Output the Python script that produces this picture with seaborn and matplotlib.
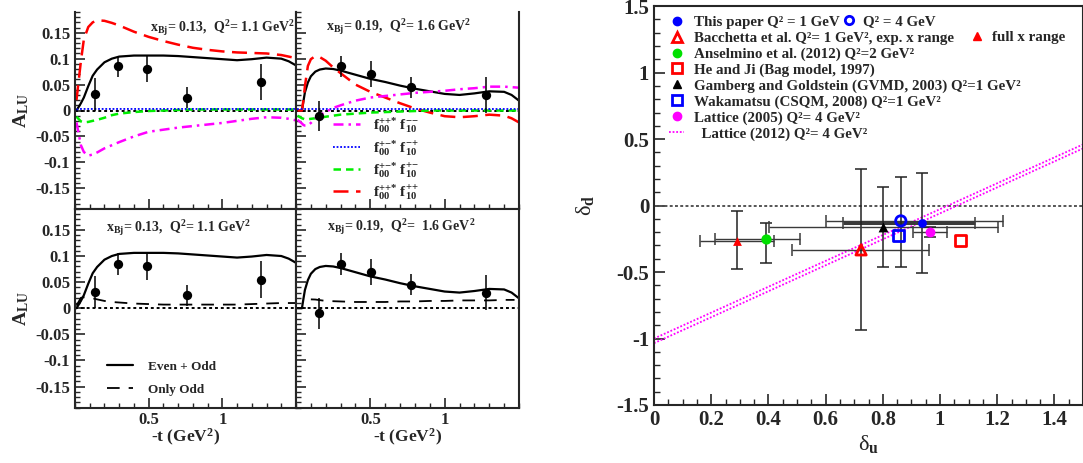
import numpy as np
import matplotlib
matplotlib.use("Agg")
import matplotlib.pyplot as plt
import seaborn as sns
from matplotlib.lines import Line2D
from matplotlib.ticker import MultipleLocator, FixedLocator, FuncFormatter

# ---- left block: A_LU vs -t (GeV^2) ----
T_013 = [0.01, 0.04, 0.06, 0.09, 0.12, 0.15, 0.2, 0.25, 0.3, 0.4, 0.5, 0.6, 0.7, 0.8,
         0.9, 1.0, 1.1, 1.2, 1.3, 1.4, 1.45, 1.5]
EVEN_ODD_013 = [0.0, 0.014, 0.025, 0.047, 0.067, 0.079, 0.093, 0.100, 0.104, 0.106, 0.106,
                0.106, 0.105, 0.103, 0.101, 0.099, 0.097, 0.099, 0.102, 0.100, 0.095, 0.087]
F_PPPP_013 = [0.02, 0.095, 0.137, 0.161, 0.170, 0.174, 0.173, 0.169, 0.164, 0.152, 0.142,
              0.134, 0.127, 0.121, 0.117, 0.114, 0.112, 0.111, 0.110, 0.107, 0.104, 0.101]
F_PMPM_013 = [-0.012, -0.021, -0.023, -0.022, -0.020, -0.018, -0.014, -0.009, -0.006, -0.003,
              -0.001, 0.0, 0.001, 0.002, 0.002, 0.002, 0.002, 0.002, 0.002, 0.002, 0.002, 0.002]
F_PMMP_013 = [0.002, 0.003, 0.003, 0.003, 0.003, 0.003, 0.003, 0.003, 0.003, 0.003, 0.003,
              0.003, 0.003, 0.003, 0.003, 0.003, 0.003, 0.003, 0.003, 0.003, 0.003, 0.003]
F_PPMM_013 = [-0.023, -0.067, -0.080, -0.087, -0.085, -0.081, -0.073, -0.067, -0.061, -0.050,
              -0.041, -0.037, -0.033, -0.030, -0.027, -0.024, -0.020, -0.016, -0.013, -0.014,
              -0.016, -0.019]
ONLY_ODD_013 = [0.005, 0.020, 0.021, 0.021, 0.019, 0.017, 0.014, 0.012, 0.011, 0.009, 0.008,
                0.007, 0.007, 0.007, 0.007, 0.007, 0.007, 0.008, 0.009, 0.010, 0.010, 0.010]

T_019 = [0.01, 0.04, 0.05, 0.06, 0.08, 0.1, 0.13, 0.16, 0.2, 0.25, 0.3, 0.4, 0.5, 0.6, 0.7,
         0.8, 0.9, 1.0, 1.1, 1.2, 1.3, 1.4, 1.45, 1.5]
EVEN_ODD_019 = [0.0, 0.0, 0.018, 0.035, 0.054, 0.066, 0.075, 0.079, 0.081, 0.080, 0.077,
                0.069, 0.061, 0.055, 0.048, 0.042, 0.037, 0.032, 0.030, 0.033, 0.037, 0.036,
                0.030, 0.019]
F_PPPP_019 = [0.0, 0.0, 0.02, 0.047, 0.086, 0.099, 0.105, 0.103, 0.096, 0.083, 0.072, 0.050,
              0.036, 0.025, 0.014, 0.004, -0.004, -0.011, -0.013, -0.011, -0.008, -0.010,
              -0.015, -0.023]
F_PPMM_019 = [-0.018, -0.025, -0.028, -0.029, -0.029, -0.024, -0.015, -0.009, -0.003, 0.005,
              0.010, 0.019, 0.025, 0.028, 0.031, 0.034, 0.036, 0.038, 0.041, 0.043, 0.046,
              0.046, 0.045, 0.044]
F_PMPM_019 = [-0.010, -0.015, -0.016, -0.017, -0.017, -0.016, -0.015, -0.014, -0.012, -0.010,
              -0.008, -0.006, -0.004, -0.003, -0.002, -0.001, 0.0, 0.0, 0.0, 0.0, 0.0, 0.0,
              0.0, 0.0]
F_PMMP_019 = [0.002] * 24
T_ODD_019 = [0.1, 0.13, 0.2, 0.3, 0.4, 0.5, 0.6, 0.7, 0.8, 0.9, 1.0, 1.1, 1.2, 1.3, 1.4, 1.47]
ONLY_ODD_019 = [0.017, 0.0167, 0.014, 0.013, 0.012, 0.012, 0.012, 0.013, 0.013, 0.014, 0.014,
                0.015, 0.015, 0.015, 0.016, 0.016]

# data points
DATA_T_013 = [0.134, 0.29, 0.49, 0.76, 1.265]
DATA_A_013 = [0.031, 0.085, 0.080, 0.025, 0.055]
DATA_E_013 = [0.031, 0.021, 0.025, 0.020, 0.035]
DATA_T_019 = [0.155, 0.305, 0.505, 0.773, 1.278]
DATA_A_019 = [-0.010, 0.085, 0.070, 0.045, 0.030]
DATA_E_019 = [0.029, 0.021, 0.025, 0.020, 0.034]

# ---- right block: tensor charges delta_d vs delta_u ----
DU = [0.938, 0.863, 0.724, 0.29, 0.393, 1.072, 0.801, 0.854, 0.965]
DD = [-0.128, -0.115, -0.333, -0.265, -0.25, -0.265, -0.163, -0.225, -0.2]
DU_LO = [0.66, 0.602, 0.482, 0.16, 0.2125, np.nan, 0.401, np.nan, 0.907]
DU_HI = [1.124, 1.22, 0.962, 0.42, 0.512, np.nan, 1.202, np.nan, 1.025]
DD_LO = [-0.508, -0.459, -0.935, -0.476, -0.43, np.nan, -0.459, np.nan, -0.236]
DD_HI = [0.248, 0.218, 0.276, -0.04, -0.128, np.nan, 0.138, np.nan, -0.164]
LAT12_DU = [0.0, 1.5]
LAT12_DD_A = [-1.0, 0.46]
LAT12_DD_B = [-1.035, 0.43]

# marker, color, filled, x-error linewidth
PT_STYLE = [("o", "#0000ff", True, 2.2), ("o", "#0000ff", False, 1.0),
            ("^", "#ff0000", False, 1.0), ("^", "#ff0000", True, 1.0),
            ("o", "#00e000", True, 1.0), ("s", "#ff0000", False, 1.0),
            ("^", "black", True, 1.0), ("s", "#0000ff", False, 1.0),
            ("o", "#ff00ff", True, 1.0)]
PT_SIZE = [40, 55, 55, 40, 55, 60, 50, 60, 50]

LEGEND_LABELS = ["This paper Q² = 1 GeV",
                 "Bacchetta et al. Q²= 1 GeV², exp. x range",
                 "Anselmino et al. (2012) Q²=2 GeV²",
                 "He and Ji (Bag model, 1997)",
                 "Gamberg and Goldstein (GVMD, 2003) Q²=1 GeV²",
                 "Wakamatsu (CSQM, 2008) Q²=1 GeV²",
                 "Lattice (2005) Q²= 4 GeV²",
                 "  Lattice (2012) Q²= 4 GeV²"]

sns.set_theme(style="ticks")
plt.rcParams.update({
    "font.family": ["Liberation Serif", "DejaVu Serif"],
    "font.weight": "bold",
    "axes.labelweight": "bold",
    "mathtext.fontset": "custom",
    "mathtext.rm": "Liberation Serif:bold",
    "mathtext.bf": "Liberation Serif:bold",
    "mathtext.it": "Liberation Serif:italic:bold",
    "mathtext.default": "bf",
    "axes.unicode_minus": False,
    "axes.linewidth": 1.3,
})

W, H = 1083, 463
fig = plt.figure(figsize=(W / 100, H / 100), dpi=100)


def box(x0, y0, x1, y1):
    return [x0 / W, 1 - y1 / H, (x1 - x0) / W, (y1 - y0) / H]


ax_tl = fig.add_axes(box(75, 12, 296, 209))
ax_tr = fig.add_axes(box(296, 12, 519, 209))
ax_bl = fig.add_axes(box(75, 209, 296, 407.5))
ax_br = fig.add_axes(box(296, 209, 519, 407.5))
ax_r = fig.add_axes(box(654, 6.2, 1083, 405))

fmt = FuncFormatter(lambda v, p: "{:g}".format(round(v, 3)))

red_dash = (0, (6, 3))
grn_dash = (0, (3, 2))
blu_dot = (0, (1, 1))
mag_dd = (0, (4, 2, 1, 2))
odd_dash = (0, (7, 5))


def base_panel(ax, t_pts, a_pts, e_pts, left, bottom):
    ax.set_xlim(0, 1.5)
    ax.set_ylim(-0.19, 0.19)
    ax.axhline(0, color="black", ls=(0, (1.5, 1.5)), lw=1.4, zorder=1)
    ax.errorbar(t_pts, a_pts, yerr=e_pts, fmt="none", ecolor="black", elinewidth=1.1, zorder=4)
    sns.scatterplot(x=t_pts, y=a_pts, ax=ax, color="black", s=45, edgecolor="black",
                    linewidth=0, zorder=5)
    ax.xaxis.set_major_locator(FixedLocator([0.5, 1.0]))
    ax.xaxis.set_minor_locator(MultipleLocator(0.1))
    ax.yaxis.set_major_locator(FixedLocator([-0.15, -0.1, -0.05, 0, 0.05, 0.1, 0.15]))
    ax.yaxis.set_minor_locator(MultipleLocator(0.01))
    ax.xaxis.set_major_formatter(fmt)
    ax.yaxis.set_major_formatter(fmt)
    ax.tick_params(which="both", direction="in", top=False, right=False, labelsize=12)
    ax.tick_params(which="major", length=7, width=1.2)
    ax.tick_params(which="minor", length=3.5, width=1.0)
    if not left:
        ax.tick_params(labelleft=False)
    else:
        ax.set_ylabel("A$_{LU}$", fontsize=14)
        ax.yaxis.set_label_coords(-0.20, 0.5)
    if not bottom:
        ax.tick_params(labelbottom=False)
        ax.spines["top"].set_visible(False)
    else:
        ax.set_xlabel("-t (GeV$^{2}$)", fontsize=12.5)
        ax.xaxis.set_label_coords(0.5, -0.1)
    for sp in ax.spines.values():
        sp.set_linewidth(1.5)


def helicity_curves(ax, t, f_ppmm, f_pmmp, f_pmpm, f_pppp):
    sns.lineplot(x=t, y=f_pppp, ax=ax, color="#ff0000", lw=1.8, linestyle=red_dash, errorbar=None)
    sns.lineplot(x=t, y=f_pmpm, ax=ax, color="#00ee00", lw=1.8, linestyle=grn_dash, errorbar=None)
    sns.lineplot(x=t, y=f_pmmp, ax=ax, color="#0000ff", lw=1.3, linestyle=blu_dot, errorbar=None)
    sns.lineplot(x=t, y=f_ppmm, ax=ax, color="#ff00ff", lw=1.8, linestyle=mag_dd, errorbar=None)


# top-left: individual helicity contributions
base_panel(ax_tl, DATA_T_013, DATA_A_013, DATA_E_013, True, False)
sns.lineplot(x=T_013, y=EVEN_ODD_013, ax=ax_tl, color="black", lw=1.6, errorbar=None)
helicity_curves(ax_tl, T_013, F_PPMM_013, F_PMMP_013, F_PMPM_013, F_PPPP_013)
ax_tl.text(0.995, 0.92, "x$_{Bj}$= 0.13,  Q$^{2}$= 1.1 GeV$^{2}$", transform=ax_tl.transAxes,
           ha="right", va="center", fontsize=10)

# top-right
base_panel(ax_tr, DATA_T_019, DATA_A_019, DATA_E_019, False, False)
sns.lineplot(x=T_019, y=EVEN_ODD_019, ax=ax_tr, color="black", lw=1.6, errorbar=None)
helicity_curves(ax_tr, T_019, F_PPMM_019, F_PMMP_019, F_PMPM_019, F_PPPP_019)
ax_tr.text(0.46, 0.925, "x$_{Bj}$= 0.19,  Q$^{2}$= 1.6 GeV$^{2}$", transform=ax_tr.transAxes,
           ha="center", va="center", fontsize=10)
h_tr = [Line2D([], [], color="#ff00ff", lw=1.8, ls=mag_dd),
        Line2D([], [], color="#0000ff", lw=1.3, ls=blu_dot),
        Line2D([], [], color="#00ee00", lw=1.8, ls=grn_dash),
        Line2D([], [], color="#ff0000", lw=1.8, ls=red_dash)]
l_tr = ["f$_{00}^{{+}{+}{*}}$ f$_{10}^{{-}{-}}$", "f$_{00}^{{+}{-}{*}}$ f$_{10}^{{-}{+}}$",
        "f$_{00}^{{+}{-}{*}}$ f$_{10}^{{+}{-}}$", "f$_{00}^{{+}{+}{*}}$ f$_{10}^{{+}{+}}$"]
ax_tr.legend(h_tr, l_tr, loc="upper left", bbox_to_anchor=(0.165, 0.475), frameon=False,
             fontsize=11, handlelength=1.8, handletextpad=0.85, labelspacing=0.15,
             borderpad=0, borderaxespad=0)

# bottom-left: even+odd vs only odd
base_panel(ax_bl, DATA_T_013, DATA_A_013, DATA_E_013, True, True)
sns.lineplot(x=T_013, y=EVEN_ODD_013, ax=ax_bl, color="black", lw=1.6, errorbar=None)
sns.lineplot(x=T_013, y=ONLY_ODD_013, ax=ax_bl, color="black", lw=1.3, linestyle=odd_dash, errorbar=None)
ax_bl.text(0.47, 0.905, "x$_{Bj}$= 0.13,  Q$^{2}$= 1.1 GeV$^{2}$", transform=ax_bl.transAxes,
           ha="center", va="center", fontsize=10)
h_bl = [Line2D([], [], color="black", lw=1.6), Line2D([], [], color="black", lw=1.3, ls=odd_dash)]
ax_bl.legend(h_bl, ["Even + Odd", "Only Odd"], loc="lower left", bbox_to_anchor=(0.145, 0.06),
             frameon=False, fontsize=9.5, handlelength=2.0, handletextpad=1.1,
             labelspacing=0.8, borderpad=0, borderaxespad=0)

# bottom-right
base_panel(ax_br, DATA_T_019, DATA_A_019, DATA_E_019, False, True)
sns.lineplot(x=T_019, y=EVEN_ODD_019, ax=ax_br, color="black", lw=1.6, errorbar=None)
sns.lineplot(x=T_ODD_019, y=ONLY_ODD_019, ax=ax_br, color="black", lw=1.3, linestyle=odd_dash, errorbar=None)
ax_br.text(0.47, 0.91, "x$_{Bj}$= 0.19,  Q$^{2}$=  1.6 GeV$^{2}$", transform=ax_br.transAxes,
           ha="center", va="center", fontsize=10)

# ---- right panel ----
ax = ax_r
ax.set_xlim(0, 1.5)
ax.set_ylim(-1.5, 1.5)
ax.axhline(0, color="#555555", ls=(0, (1.5, 1.2)), lw=1.4, zorder=1)
sns.lineplot(x=LAT12_DU, y=LAT12_DD_A, ax=ax, color="#ff00ff", lw=1.3, linestyle=(0, (1, 1)), errorbar=None)
sns.lineplot(x=LAT12_DU, y=LAT12_DD_B, ax=ax, color="#ff00ff", lw=1.3, linestyle=(0, (1, 1)), errorbar=None)
for i in range(len(DU)):
    if not np.isnan(DU_LO[i]):
        ax.errorbar(DU[i], DD[i], xerr=[[DU[i] - DU_LO[i]], [DU_HI[i] - DU[i]]], fmt="none",
                    ecolor="#3a3a3a", elinewidth=PT_STYLE[i][3], capsize=4, capthick=1.1, zorder=3)
        ax.errorbar(DU[i], DD[i], yerr=[[DD[i] - DD_LO[i]], [DD_HI[i] - DD[i]]], fmt="none",
                    ecolor="#222222", elinewidth=1.1, capsize=4, capthick=1.1, zorder=3)
for i in range(len(DU)):
    mk, col, filled, _ = PT_STYLE[i]
    sns.scatterplot(x=[DU[i]], y=[DD[i]], ax=ax, marker=mk, s=PT_SIZE[i], color=col,
                    facecolor=col if filled else "none", edgecolor=col,
                    linewidth=0 if filled else 2.0, zorder=5)

ax.xaxis.set_major_locator(MultipleLocator(0.2))
ax.xaxis.set_minor_locator(MultipleLocator(0.05))
ax.yaxis.set_major_locator(MultipleLocator(0.5))
ax.yaxis.set_minor_locator(MultipleLocator(0.1))
ax.xaxis.set_major_formatter(FuncFormatter(lambda v, p: "{:g}".format(round(v, 3)) if v < 1.45 else ""))
ax.yaxis.set_major_formatter(fmt)
ax.tick_params(which="both", direction="in", top=False, right=False, labelsize=15)
ax.tick_params(which="major", length=8, width=1.2)
ax.tick_params(which="minor", length=4, width=1.0)
for sp in ax.spines.values():
    sp.set_linewidth(1.5)
ax.set_xlabel("δ$_{u}$", fontsize=16, fontweight="normal")
ax.xaxis.set_label_coords(0.5, -0.07)
ax.set_ylabel("δ$_{d}$", fontsize=16, fontweight="normal")
ax.yaxis.set_label_coords(-0.135, 0.5)

h_r = [Line2D([], [], marker="o", color="#0000ff", ls="none", markersize=6),
       Line2D([], [], marker="^", color="#ff0000", mfc="none", mew=2, ls="none", markersize=7),
       Line2D([], [], marker="o", color="#00e000", ls="none", markersize=6),
       Line2D([], [], marker="s", color="#ff0000", mfc="none", mew=2, ls="none", markersize=6.5),
       Line2D([], [], marker="^", color="black", ls="none", markersize=6),
       Line2D([], [], marker="s", color="#0000ff", mfc="none", mew=2, ls="none", markersize=6.5),
       Line2D([], [], marker="o", color="#ff00ff", ls="none", markersize=6),
       Line2D([], [], color="#ff00ff", lw=1.3, ls=(0, (1, 1)))]
leg_kw = dict(frameon=False, fontsize=10.8, handlelength=1.0, borderpad=0, borderaxespad=0)
leg_main = ax.legend(h_r, LEGEND_LABELS, loc="upper left", bbox_to_anchor=(0.035, 0.976),
                     handletextpad=0.65, labelspacing=0.15, **leg_kw)
ax.add_artist(leg_main)
leg_q4 = ax.legend([Line2D([], [], marker="o", color="#0000ff", mfc="none", mew=2, ls="none",
                           markersize=6)], ["Q² = 4 GeV"], loc="center left",
                   bbox_to_anchor=(0.4365, 0.962), handletextpad=0.45, **leg_kw)
ax.add_artist(leg_q4)
ax.legend([Line2D([], [], marker="^", color="#ff0000", ls="none", markersize=6)],
          ["full x range"], loc="center left", bbox_to_anchor=(0.7345, 0.922),
          handletextpad=0.5, **leg_kw)

fig.savefig("out.png", dpi=100)
